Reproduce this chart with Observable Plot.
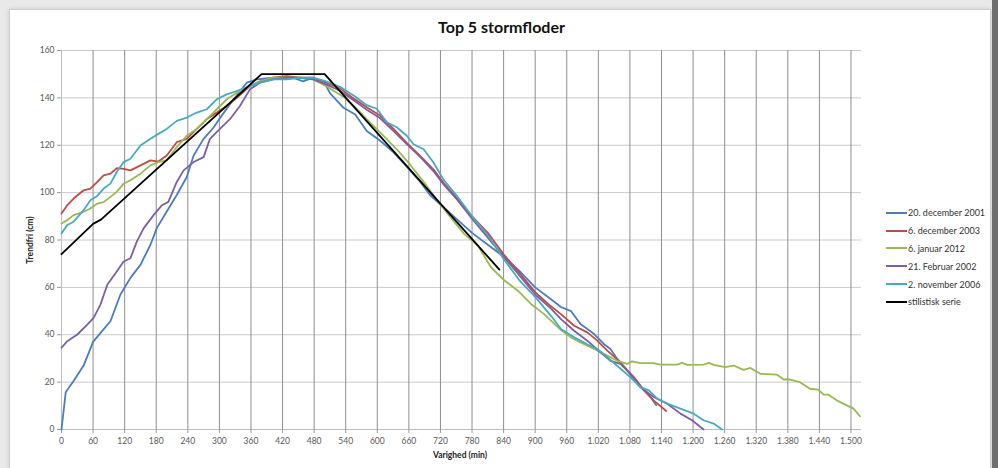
<!DOCTYPE html>
<html>
<head>
<meta charset="utf-8">
<script src="https://cdn.jsdelivr.net/npm/d3@7"></script>
<script src="https://cdn.jsdelivr.net/npm/@observablehq/plot@0.6"></script>
<style>
  html, body { margin: 0; padding: 0; }
  body { width: 998px; height: 468px; overflow: hidden; background: #e9e9e9; font-family: Lato, "Open Sans", sans-serif; }
  #wrap { position: relative; width: 998px; height: 468px; }
  #panel { position: absolute; left: 9px; top: 9px; width: 980px; height: 470px; background: #fff; border: 1px solid #cfcfcf; box-shadow: 0 0 4px rgba(0,0,0,0.15); }
  #edge { position: absolute; left: 992px; top: 0; width: 6px; height: 468px; background: #6f6f6f; }
  #chart { position: absolute; left: 0; top: 0; }
  #title { position: absolute; left: 0; width: 1003px; top: 17px; text-align: center; font-weight: bold; font-size: 16px; color: #111; }
  #ylab { position: absolute; left: 30px; top: 240px; transform: translate(-50%, -50%) rotate(-90deg); font-weight: bold; font-size: 8.5px; color: #222; white-space: nowrap; }
  #xlab { position: absolute; left: 460px; top: 455px; transform: translate(-50%, -50%); font-weight: bold; font-size: 8.5px; color: #222; white-space: nowrap; }
  #legend { position: absolute; left: 886px; top: 204px; font-size: 9px; color: #333; }
  .li { display: flex; align-items: center; height: 17.8px; white-space: nowrap; }
  .sw { width: 21px; height: 2px; margin-right: 1px; }
</style>
</head>
<body>
<div id="wrap">
  <div id="panel"></div>
  <div id="edge"></div>
  <div id="chart"></div>
  <div id="title">Top 5 stormfloder</div>
  <div id="ylab">Trendfri (cm)</div>
  <div id="xlab">Varighed (min)</div>
  <div id="legend"></div>
</div>
<script>
const seriesNames = ["20. december 2001", "6. december 2003", "6. januar 2012", "21. Februar 2002", "2. november 2006", "stilistisk serie"];
const seriesColors = ["#4a7ebb", "#be4b48", "#98b954", "#7d60a0", "#46aac5", "#000000"];

const xTicks = d3.range(0, 1501, 60);
const yTicks = [0, 20, 40, 60, 80, 100, 120, 140, 160];

// 20. december 2001
const blueMin = [0,8,23,42,60,77,93,112,131,150,169,181,200,219,238,251,270,289,304,327,352,371,402,440,459,478,503,510,536,558,580,605,631,656,680,700,720,750,780,810,840,870,900,930,949,968,986,1012,1031,1043,1056,1075,1094,1110,1119,1130];
const blueVal = [0,15.7,20.5,27,37,41.5,45.7,57,64,69.5,78,85,92,99,106.6,115.7,122.7,127.5,132.4,139.4,146.4,147.8,148.5,148.5,147,148.5,145,142,135.8,133,126,122,117,111,105,99,95,89,83,78,73,67,60,55,51.7,50,44.5,40.3,36,34,29.8,24.9,19.3,15.8,13.7,10.2];

// 6. december 2003
const redMin = [0,11,23,42,55,68,80,93,105,118,131,150,169,184,200,219,238,257,276,295,314,333,358,377,402,428,453,478,503,529,555,580,605,631,656,682,707,726,750,780,810,840,870,900,930,949,974,999,1018,1037,1059,1075,1088,1107,1125,1149];
const redVal = [91.2,94.7,97.5,101,101.7,104.5,107.3,108,110.3,110,109.4,111.5,113.6,113.1,115.7,121.3,122.7,126.9,131,133.8,136.6,140,145,147,148.5,149.2,148.5,148.5,146.4,144,139.7,136,132.6,126.9,121,115.4,109.7,104,98,90,83,74,66,58,52,48.7,43.8,41,37.5,33.3,29,25,22,16.5,12.3,7.8];

// 6. januar 2012
const greenMin = [0,11,23,42,55,68,80,93,105,118,131,150,169,184,200,219,238,257,276,295,314,333,358,377,402,428,453,478,503,510,536,561,586,612,637,662,690,702,734,765,791,816,841,867,892,917,930,949,968,986,1012,1037,1056,1075,1084,1100,1125,1138,1170,1179,1189,1220,1230,1239,1261,1277,1296,1309,1328,1359,1372,1384,1403,1422,1438,1448,1457,1473,1492,1505,1517];
const greenVal = [87,88.4,90.5,91.9,93.3,95.4,96,98.2,100.3,103.8,105.2,108,111.5,112.9,113.6,119.2,124,126.9,131,135.2,139.4,142.2,145,147,148.5,148.5,148.5,147.8,145,144,140.4,135.4,129.7,124,118.3,111.9,104,100.3,91,82.6,77.7,68.5,63,58.6,53,48.7,46,42,38.9,36.8,34,31.2,29,27.7,28.8,28,28,27.4,27.4,28.1,27.3,27.4,28.1,27.3,26.3,27,25.2,26,23.5,23.2,21.1,21.1,20,17.2,16.8,14.7,14.7,12.3,10.2,8.8,5.6];

// 21. Februar 2002
const purpleMin = [0,11,30,49,61,74,87,105,118,131,143,156,175,191,203,219,232,251,270,282,301,320,339,358,377,402,428,453,478,503,529,555,580,605,631,656,682,707,726,750,780,810,840,870,900,930,949,974,999,1024,1043,1062,1081,1100,1125,1151,1176,1198,1220];
const purpleVal = [34.5,37.3,40.1,44.3,47.1,52.7,61.1,66.7,70.9,72.3,79.3,84.9,90.5,94.7,96.1,104.5,109.4,112.9,115,122.7,126.9,131,136.6,143.6,146.4,147.8,148.5,148.5,147.8,145.7,143,139,135,131.5,126,120.5,115,109,103.5,97.5,89,81,73,65,57,51,46.6,41.7,37.5,32.6,29,27.7,23.5,17.9,13.7,10.9,6.7,3.9,0];

// 2. november 2006
const cyanMin = [0,11,23,42,55,68,80,93,105,118,131,150,169,184,200,219,238,257,276,295,314,333,358,377,402,428,453,478,503,529,555,580,599,618,637,656,669,688,707,726,750,780,810,840,870,900,930,949,974,999,1018,1037,1059,1081,1100,1116,1132,1151,1176,1201,1220,1239,1255];
const cyanVal = [82.8,86.3,87.7,92.6,96.8,98.6,101.7,103.8,108.7,112.9,114.3,119.9,122.7,124.8,126.9,130.3,131.7,133.8,135.2,139.4,141.5,142.9,145,146.4,147.8,147.8,148.5,148.5,147,144.7,141,136.9,135.4,129.7,127.6,124,120.4,118.3,112.6,105.4,99,90,82,72,63,56,48,42.4,38.9,36,34,30.5,26.3,22,17.9,16.5,13,10.9,8.8,6.7,3.9,2.5,0];

// stilistisk serie
const blackMin = [0,60,75,380,500,832];
const blackVal = [74,86.8,88.6,150,150,67.5];

const seriesMin = [blueMin, redMin, greenMin, purpleMin, cyanMin, blackMin];
const seriesVal = [blueVal, redVal, greenVal, purpleVal, cyanVal, blackVal];

const data = [];
seriesNames.forEach((name, i) => {
  seriesMin[i].forEach((m, j) => data.push({series: name, min: m, val: seriesVal[i][j]}));
});

const fmt = d => d >= 1000 ? d3.format(",")(d).replace(",", ".") : String(d);

const chart = Plot.plot({
  width: 998,
  height: 468,
  marginLeft: 61,
  marginRight: 137,
  marginTop: 50,
  marginBottom: 39,
  x: {domain: [0, 1520]},
  y: {domain: [0, 160]},
  color: {domain: seriesNames, range: seriesColors},
  style: {fontFamily: "Lato, 'Open Sans', sans-serif", fontSize: "8.5px", color: "#595959", background: "transparent", overflow: "visible"},
  marks: [
    Plot.gridY(yTicks.filter(d => d > 0), {stroke: "#cbcbcb", strokeOpacity: 1}),
    Plot.gridX(xTicks.filter(d => d > 0), {stroke: "#8f8f8f", strokeOpacity: 1}),
    Plot.ruleY([0], {stroke: "#bdbdbd"}),
    Plot.ruleX([0], {stroke: "#bdbdbd"}),
    Plot.axisX(xTicks, {tickFormat: fmt, tickSize: 4, tickPadding: 4, stroke: "#9a9a9a", fill: "#595959", label: null}),
    Plot.axisY(yTicks, {tickSize: 4, tickPadding: 3, stroke: "#9a9a9a", fill: "#595959", label: null}),
    Plot.line(data, {x: "min", y: "val", z: "series", stroke: "series", strokeWidth: 1.8, strokeLinejoin: "round"})
  ]
});
document.getElementById("chart").appendChild(chart);

const legend = document.getElementById("legend");
seriesNames.forEach((name, i) => {
  const row = document.createElement("div");
  row.className = "li";
  const sw = document.createElement("span");
  sw.className = "sw";
  sw.style.background = seriesColors[i];
  const t = document.createElement("span");
  t.textContent = name;
  row.appendChild(sw);
  row.appendChild(t);
  legend.appendChild(row);
});
</script>
</body>
</html>
